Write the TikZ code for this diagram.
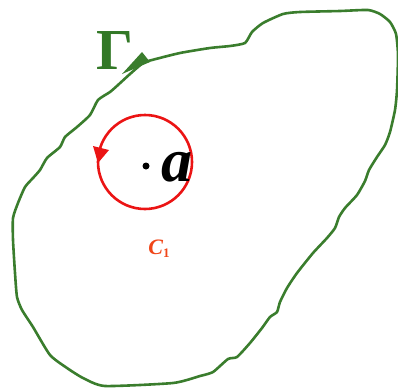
\documentclass[tikz,border=0pt]{standalone}
\usepackage{fontspec}
\setmainfont{Liberation Serif}
\definecolor{gcurve}{RGB}{58,125,45}
\definecolor{gtext}{RGB}{50,120,38}
\definecolor{rc}{RGB}{235,20,20}
\definecolor{cl}{RGB}{240,70,25}
\begin{document}
\begin{tikzpicture}[x=1pt,y=-1pt,
  gline/.style={draw=gcurve,line width=2.6pt,line join=round},
  rline/.style={draw=rc,line width=2.6pt}]
\useasboundingbox (0,0) rectangle (398,388);
\draw[gline] plot[smooth cycle,tension=0.35] coordinates {
(152,60)(180,53)(210,48)(230,46)(245,43)(252,32)(263,23)(283,14)(300,12)(340,11)(368,10)(380,14)(390,22)(396,34)(398,55)(397,90)(395,110)(390,132)(385,145)(377,157)(369,170)(365,181)(357,195)(345,208)(339,217)(335,228)(327,238)(313,253)(297,273)(287,288)(280,302)(277,312)(270,317)(262,328)(250,343)(237,357)(228,359)(213,372)(200,376)(173,383)(105,386)(83,378)(67,368)(50,355)(33,327)(22,310)(17,297)(15,273)(13,240)(13,218)(18,203)(25,187)(33,178)(40,170)(47,158)(60,147)(65,137)(77,127)(90,115)(98,100)(110,92)(118,85)(130,74)(143,63)};
\fill[gcurve] (122,74) -- (142,52) -- (150,62) -- cycle;
\node[text=gtext,anchor=base,font=\fontsize{58}{58}\selectfont\bfseries] (gamma) at (115,69) {Γ};
\node[circle,rline,minimum size=94pt,inner sep=0pt] (c1) at (145,162) {};
\fill[rc] (93,146) -- (109,150) -- (98,163) -- cycle;
\fill[black] (146,166) circle (3.5pt);
\node[anchor=base,font=\fontsize{62}{62}\selectfont\bfseries\itshape] (a) at (177,181) {a};
\node[text=cl,anchor=base,font=\fontsize{22}{22}\selectfont\bfseries\itshape] (clabel) at (159,254) {C\raisebox{-3pt}{\fontsize{13}{13}\selectfont\upshape 1}};
\end{tikzpicture}
\end{document}
